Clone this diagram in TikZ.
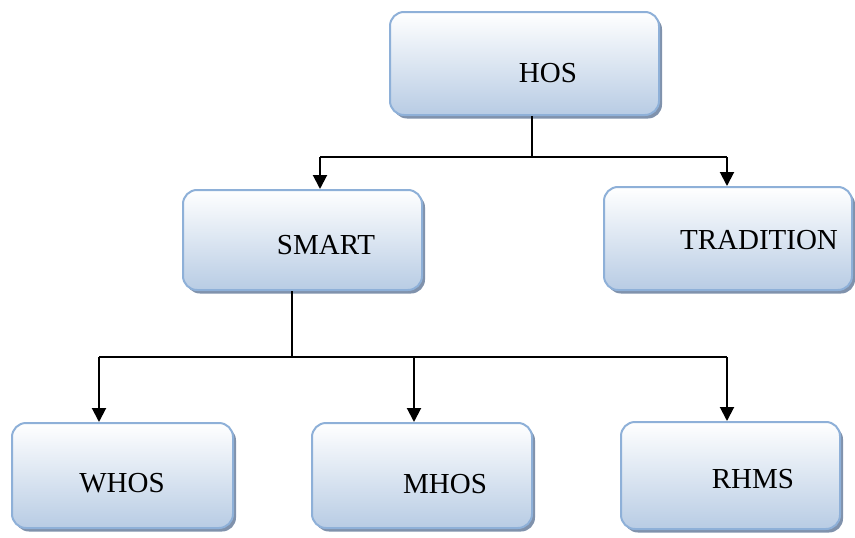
\documentclass[tikz,border=0pt]{standalone}
\usepackage{fontspec}
\setmainfont{Liberation Serif}
\usetikzlibrary{shadows,arrows.meta}
\definecolor{boxborder}{RGB}{142,176,216}
\definecolor{boxfill}{RGB}{184,204,228}
\definecolor{shadowc}{RGB}{128,146,172}
\tikzset{
  box/.style={rounded corners=14pt, draw=boxborder, line width=2pt,
    top color=white, bottom color=boxfill,
    drop shadow={shadow xshift=3pt, shadow yshift=-3.5pt, fill=shadowc, opacity=1},
    inner sep=0pt},
  lbl/.style={inner sep=0pt, font=\fontsize{29}{33}\selectfont},
  link/.style={line width=2pt, draw=black},
  arr/.style={link, -{Triangle[width=14pt,length=14pt]}}
}
\begin{document}
\begin{tikzpicture}[x=1pt,y=-1pt]
\useasboundingbox (0,0) rectangle (855,538);
% boxes
\node[box, minimum width=269pt, minimum height=103pt] (hos) at (524.5,63.5) {};
\node[box, minimum width=239pt, minimum height=100pt] (smart) at (302.5,240) {};
\node[box, minimum width=248pt, minimum height=103pt] (trad) at (728,238.5) {};
\node[box, minimum width=221pt, minimum height=105pt] (whos) at (122.5,475.5) {};
\node[box, minimum width=220pt, minimum height=105pt] (mhos) at (422,475.5) {};
\node[box, minimum width=219pt, minimum height=107pt] (rhms) at (730.5,475.5) {};
% labels
\node[lbl] (thos) at (548,73) {HOS};
\node[lbl] (tsmart) at (326,245) {SMART};
\node[lbl] (ttrad) at (759,240) {TRADITION};
\node[lbl] (twhos) at (122,483) {WHOS};
\node[lbl] (tmhos) at (445,484) {MHOS};
\node[lbl] (trhms) at (753,479) {RHMS};
% connectors from HOS
\coordinate (j1) at (532,157);
\coordinate (a1) at (320,157);
\coordinate (a2) at (727,157);
\draw[link] (hos.south -| j1) -- (j1);
\draw[link] (a1) -- (a2);
\draw[arr] (a1) -- (a1 |- smart.north);
\draw[arr] (a2) -- (a2 |- trad.north);
% connectors from SMART
\coordinate (j2) at (292,357);
\coordinate (b1) at (99,357);
\coordinate (b2) at (414,357);
\coordinate (b3) at (727,357);
\draw[link] (smart.south -| j2) -- (j2);
\draw[link] (b1) -- (b3);
\draw[arr] (b1) -- (b1 |- whos.north);
\draw[arr] (b2) -- (b2 |- mhos.north);
\draw[arr] (b3) -- (b3 |- rhms.north);
\end{tikzpicture}
\end{document}
